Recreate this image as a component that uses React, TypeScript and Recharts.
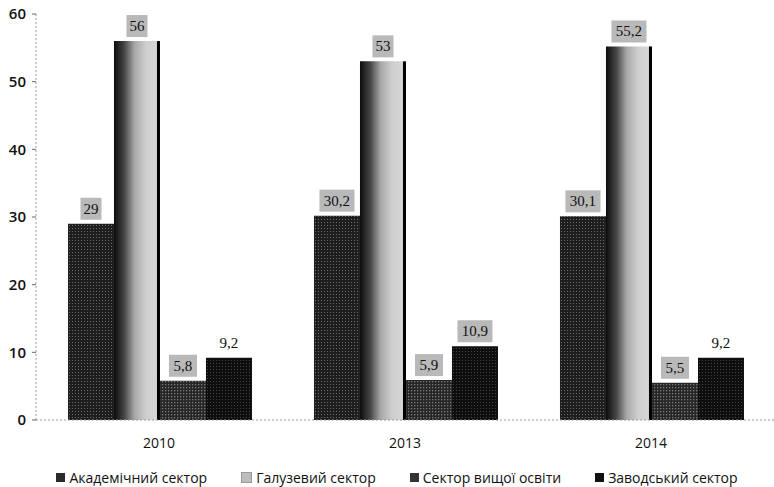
import { BarChart, Bar, XAxis, YAxis, Legend, LabelList, Rectangle } from 'recharts';

document.body.style.margin = '0';

const years = ['2010', '2013', '2014'];
const academic = [29, 30.2, 30.1];
const branch = [56, 53, 55.2];
const higherEd = [5.8, 5.9, 5.5];
const factory = [9.2, 10.9, 9.2];
const yTicks = [0, 10, 20, 30, 40, 50, 60];

const seriesKeys = ['academic', 'branch', 'higherEd', 'factory'];
const seriesNames = ['Академічний сектор', 'Галузевий сектор', 'Сектор вищої освіти', 'Заводський сектор'];

// labels drawn without the grey box in the original
const plainLabels = ['factory-0', 'factory-2'];

const data = years.map((year, i) => ({
  year,
  academic: academic[i],
  branch: branch[i],
  higherEd: higherEd[i],
  factory: factory[i],
}));

const fills: Record<string, string> = {
  academic: 'url(#acadPat)',
  branch: 'url(#branchGrad)',
  higherEd: 'url(#higherPat)',
  factory: 'url(#factoryPat)',
};
const legendIcon: Record<string, string> = {
  academic: '#2b2b2b',
  branch: '#bdbdbd',
  higherEd: '#333',
  factory: '#111',
};

const fmt = (v: number) => String(v).replace('.', ',');

const makeLabel = (key: string) => (props: any) => {
  const { x, y, width, value, index } = props;
  const text = fmt(value);
  const cx = x + width / 2;
  const boxW = text.length * 7 + 7;
  const boxH = 22;
  const bottom = y - 4;
  const boxed = !plainLabels.includes(`${key}-${index}`);
  return (
    <g>
      {boxed && (
        <rect x={cx - boxW / 2} y={bottom - boxH} width={boxW} height={boxH} fill="#b9b9b9" />
      )}
      <text
        x={cx}
        y={bottom - boxH / 2 + 5}
        textAnchor="middle"
        fontFamily="'Liberation Serif', serif"
        fontSize={15}
        fill="#111"
      >
        {text}
      </text>
    </g>
  );
};

const BranchShape = (props: any) => {
  const { x, y, width, height } = props;
  return (
    <g>
      <Rectangle x={x} y={y} width={width} height={height} fill="url(#branchGrad)" />
      <rect x={x + width - 3} y={y} width={3} height={height} fill="#000" />
    </g>
  );
};

const LegendContent = () => (
  <div
    style={{
      display: 'flex',
      justifyContent: 'center',
      gap: 34,
      fontFamily: "'Open Sans', sans-serif",
      fontSize: 14,
      color: '#111',
      paddingLeft: 20,
    }}
  >
    {seriesKeys.map((k, i) => (
      <span key={k} style={{ display: 'flex', alignItems: 'center' }}>
        <span
          style={{
            display: 'inline-block',
            width: 9,
            height: 9,
            marginRight: 4,
            background: legendIcon[k],
            border: k === 'branch' ? '1px solid #999' : 'none',
          }}
        />
        {seriesNames[i]}
      </span>
    ))}
  </div>
);

export default function App() {
  return (
    <div style={{ width: 774, height: 487, background: '#fff' }}>
      <BarChart
        width={774}
        height={487}
        data={data}
        margin={{ top: 14, right: 0, left: 0, bottom: 0 }}
        barCategoryGap="13%"
        barGap={0}
      >
        <defs>
          <linearGradient id="branchGrad" x1="0" y1="0" x2="1" y2="0">
            <stop offset="0%" stopColor="#0c0c0c" />
            <stop offset="22%" stopColor="#444" />
            <stop offset="45%" stopColor="#a8a8a8" />
            <stop offset="70%" stopColor="#cfcfcf" />
            <stop offset="100%" stopColor="#d8d8d8" />
          </linearGradient>
          <pattern id="acadPat" width="3" height="3" patternUnits="userSpaceOnUse">
            <rect width="3" height="3" fill="#1e1e1e" />
            <rect width="1" height="1" fill="#6a6a6a" />
          </pattern>
          <pattern id="higherPat" width="3" height="3" patternUnits="userSpaceOnUse">
            <rect width="3" height="3" fill="#262626" />
            <rect width="1.3" height="1.3" fill="#7a7a7a" />
          </pattern>
          <pattern id="factoryPat" width="3" height="3" patternUnits="userSpaceOnUse">
            <rect width="3" height="3" fill="#0e0e0e" />
            <rect width="1" height="1" fill="#444" />
          </pattern>
        </defs>
        <XAxis
          dataKey="year"
          axisLine={{ stroke: '#999', strokeDasharray: '2 2' }}
          tickLine={false}
          tick={{ fill: '#111', fontSize: 14, fontFamily: "'Open Sans', sans-serif" }}
          tickMargin={12}
          height={48}
        />
        <YAxis
          domain={[0, 60]}
          ticks={yTicks}
          width={36}
          axisLine={{ stroke: '#999', strokeDasharray: '2 2' }}
          tickLine={{ stroke: '#666' }}
          tickSize={4}
          tickMargin={6}
          tick={{ fill: '#111', fontSize: 15, fontFamily: "'Open Sans', sans-serif", fontWeight: 600 }}
        />
        <Legend verticalAlign="bottom" content={LegendContent} />
        {seriesKeys.map((k, i) => (
          <Bar
            key={k}
            dataKey={k}
            name={seriesNames[i]}
            fill={fills[k]}
            shape={k === 'branch' ? BranchShape : undefined}
            isAnimationActive={false}
          >
            <LabelList dataKey={k} content={makeLabel(k)} />
          </Bar>
        ))}
      </BarChart>
    </div>
  );
}
